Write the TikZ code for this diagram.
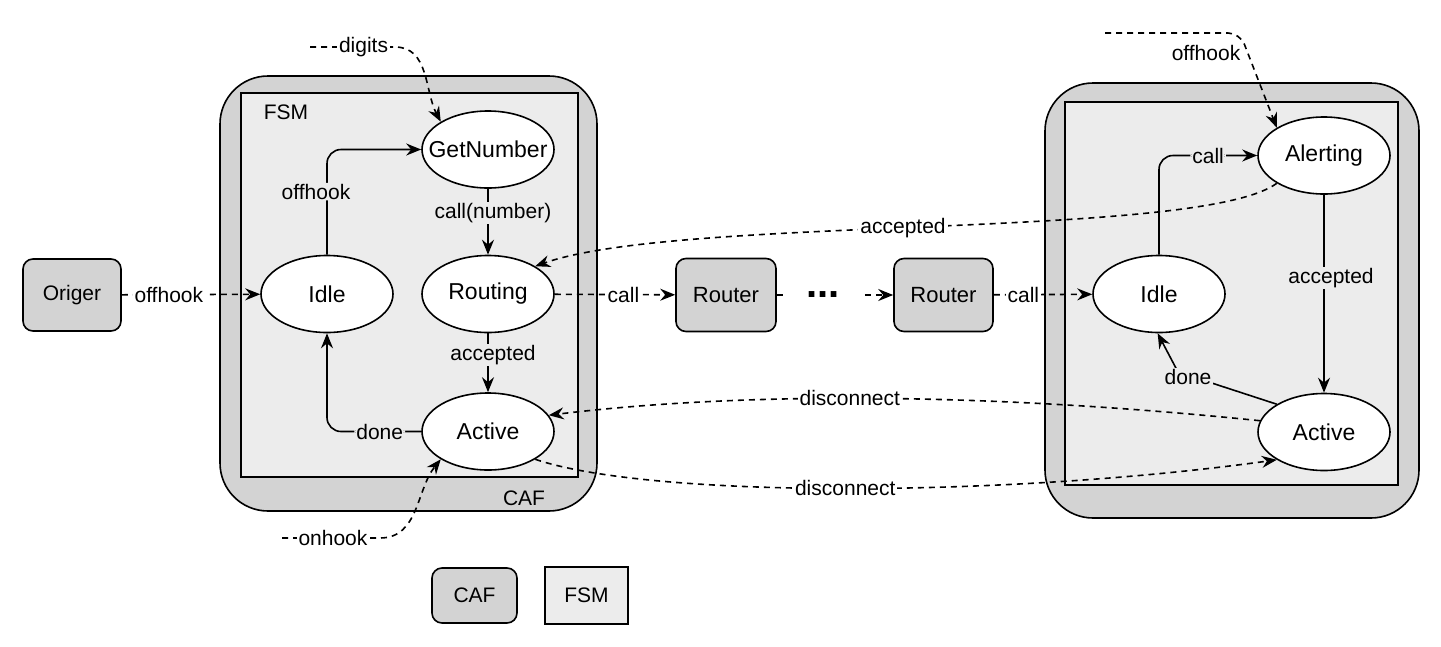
\documentclass[tikz,border=0pt]{standalone}
\usepackage{fontspec}
\setmainfont{Liberation Sans}
\usetikzlibrary{arrows.meta,shapes.geometric}
\definecolor{cafgray}{RGB}{211,211,211}
\definecolor{fsmgray}{RGB}{236,236,236}
\newcommand{\zt}[1]{\makebox[0pt]{#1}}
\begin{document}
\begin{tikzpicture}[x=1pt,y=1pt,line width=1.6pt,
  >={Stealth[length=15pt,width=12pt,inset=5pt]},
  stnode/.style={ellipse,draw,fill=white,minimum width=132pt,minimum height=77pt,inner sep=0pt,font=\fontsize{23}{27}\selectfont},
  boxnode/.style={rectangle,rounded corners=10pt,draw,fill=cafgray,minimum width=98pt,minimum height=72pt,inner sep=0pt,font=\fontsize{21}{25}\selectfont},
  lbl/.style={font=\fontsize{21}{25}\selectfont,fill=white,inner xsep=2pt,inner ysep=1pt},
  lblin/.style={lbl,fill=fsmgray},
  plain/.style={font=\fontsize{21}{25}\selectfont,inner sep=0pt},
  msg/.style={->,dash pattern=on 6pt off 5pt},
  trans/.style={->},
  dots/.style={fill=white,inner xsep=20pt,inner ysep=1pt,font=\fontsize{40}{40}\selectfont\bfseries}]
\useasboundingbox (0,0) rectangle (1441,-646);

% containers
\draw[fill=cafgray,rounded corners=48pt] (220,-76) rectangle (597,-511);
\draw[fill=fsmgray] (241,-93) rectangle (578,-477);
\draw[fill=cafgray,rounded corners=48pt] (1045,-83) rectangle (1419,-518);
\draw[fill=fsmgray] (1065,-102) rectangle (1398,-485);
\node[plain] (fsmlblL) at (286,-112) {FSM};
\node[plain] (caflblL) at (524,-498) {CAF};

% nodes
\node[boxnode] (origer) at (72,-295) {Origer};
\node[stnode] (idleL) at (327,-294) {\zt{Idle}};
\node[stnode] (getnum) at (488,-149.5) {\zt{GetNumber}};
\node[stnode] (routing) at (488,-294) {\zt{Routing}};
\node[stnode] (actL) at (488,-431.5) {\zt{Active}};
\node[boxnode,minimum width=100pt,minimum height=73pt,font=\fontsize{22}{26}\selectfont] (router1) at (726,-295) {Router};
\node[boxnode,minimum width=99pt,minimum height=73pt,font=\fontsize{22}{26}\selectfont] (router2) at (943.5,-295) {Router};
\node[stnode] (idleR) at (1159,-294) {\zt{Idle}};
\node[stnode] (alertR) at (1324,-155.5) {\zt{Alerting}};
\node[stnode] (actR) at (1324,-432) {\zt{Active}};

% legend
\node[boxnode,minimum width=85pt,minimum height=55pt] (legcaf) at (474.5,-595.5) {CAF};
\node[draw,fill=fsmgray,minimum width=83pt,minimum height=57pt,inner sep=0pt,font=\fontsize{21}{25}\selectfont] (legfsm) at (586.5,-595.5) {FSM};

% left side transitions
\draw[msg] (origer) -- node[lbl,pos=0.34]{offhook} (idleL);
\draw[trans,rounded corners=14pt] (idleL.north) |- node[lblin,pos=0.3,xshift=-11pt]{offhook} (getnum.west);
\draw[trans] (getnum) -- node[lblin,pos=0.37,xshift=5pt]{call(number)} (routing);
\draw[trans] (routing) -- node[lblin,pos=0.37,xshift=5pt]{accepted} (actL);
\draw[trans,rounded corners=14pt] (actL.west) -| node[lblin,pos=0.22]{done} (idleL.south);

\coordinate (dgstart) at (310,-47);
\draw[msg] (dgstart) -- node[lbl,pos=0.63]{digits} (395,-47) to[out=0,in=118] (getnum.north west);
\coordinate (onstart) at (282,-538);
\draw[msg] (onstart) -- node[lbl,pos=0.52]{onhook} (380,-538) to[out=0,in=-129] (actL.south west);

% routers
\draw[msg] (routing) -- node[lbl,pos=0.57]{call} (router1);
\draw[msg] (router1) -- node[dots,pos=0.4]{...} (router2);
\draw[msg] (router2) -- node[lbl,pos=0.3]{call} (idleR);

% right side transitions
\draw[trans,rounded corners=14pt] (idleR.north) |- node[lblin,pos=0.75]{call} (alertR.west);
\draw[trans] (alertR) -- node[lblin,pos=0.42,xshift=7pt]{accepted} (actR);
\draw[trans] (actR.north west) -- (1178,-372) node[lblin,xshift=10pt,yshift=-5pt]{done} -- (idleR.268);

\coordinate (ohstart) at (1105,-33);
\draw[msg,rounded corners=12pt] (ohstart) -- (1240,-33) -- (alertR.north west);
\node[plain] (ohlbl) at (1206,-53) {offhook};

% long messages
\draw[msg] (alertR.south west) .. controls (1200,-240) and (680,-215) .. node[lbl,pos=0.53]{accepted} (routing.north east);
\draw[msg] (actR.170) .. controls (980,-392) and (740,-392) .. node[lbl,pos=0.53]{disconnect} (actL.15);
\draw[msg] (actL.south east) .. controls (650,-498) and (1000,-498) .. node[lbl,pos=0.5]{disconnect} (actR.south west);
\end{tikzpicture}
\end{document}
